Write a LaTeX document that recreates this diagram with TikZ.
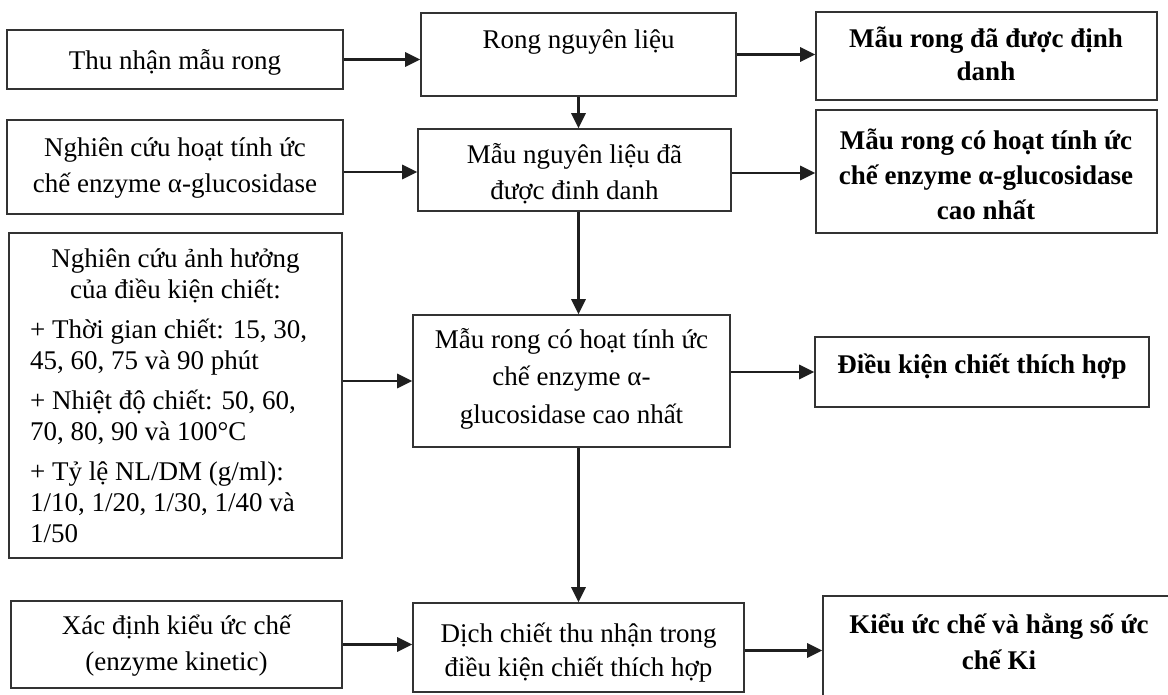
\documentclass[tikz,border=0pt]{standalone}
\usepackage{fontspec}
\setmainfont{Liberation Serif}
\usetikzlibrary{arrows.meta}
\newcommand\boxat[5]{\node[box, minimum width={#4-#2}, minimum height={#5-#3}] (#1) at ({(#2+#4)/2},{(#3+#5)/2}) {};}
\newcommand\tlines[6]{\foreach \linetext [count=\i] in {#6} {\node[#2] (#1-\i) at (#3, {#4+(\i-1)*#5}) {\linetext};}}
\begin{document}
\begin{tikzpicture}[x=1pt,y=-1pt,
  box/.style={draw=black!80, line width=1.6pt, inner sep=0pt, rectangle},
  txt/.style={inner sep=0pt, font=\fontsize{27}{31}\selectfont, text=black, anchor=base},
  btxt/.style={txt, font=\fontsize{27}{31}\selectfont\bfseries},
  ltxt/.style={txt, anchor=base west},
  arr/.style={line width=2.8pt, draw=black!88, -{Triangle[length=15pt,width=14pt]}}
]
\useasboundingbox (0,0) rectangle (1168,694);
\fill[white] (0,0) rectangle (1168,694);
\clip (0,0) rectangle (1168,694);

% boxes
\boxat{A}{7}{30}{343}{89}
\boxat{B}{421}{13}{736}{96}
\boxat{C}{816}{12}{1157}{100}
\boxat{D}{7}{120}{343}{214}
\boxat{E}{418}{129}{731}{211}
\boxat{F}{816}{110}{1157}{233}
\boxat{G}{9}{233}{342}{558}
\boxat{H}{413}{315}{730}{447}
\boxat{I}{815}{337}{1149}{407}
\boxat{J}{11}{601}{342}{688}
\boxat{K}{413}{603}{744}{692}
\boxat{L}{823}{596}{1175}{720}

% texts
\tlines{At}{txt}{175}{69}{31}{Thu nhận mẫu rong}
\tlines{Bt}{txt}{578.5}{48}{31}{Rong nguyên liệu}
\tlines{Ct}{btxt}{986}{47}{33}{Mẫu rong đã được định, danh}
\tlines{Dt}{txt}{175}{156}{36}{Nghiên cứu hoạt tính ức, chế enzyme α-glucosidase}
\tlines{Et}{txt}{574.5}{163}{36}{Mẫu nguyên liệu đã, được đinh danh}
\tlines{Ft}{btxt}{986}{149}{35}{Mẫu rong có hoạt tính ức, chế enzyme α-glucosidase, cao nhất}
\tlines{Ga}{txt}{175.5}{267}{31}{Nghiên cứu ảnh hưởng, của điều kiện chiết:}
\tlines{Gb}{ltxt}{30}{338}{31}{{+ Thời gian chiết: 15, 30,}, {45, 60, 75 và 90 phút}}
\tlines{Gc}{ltxt}{30}{409}{31}{{+ Nhiệt độ chiết: 50, 60,}, {70, 80, 90 và 100°C}}
\tlines{Gd}{ltxt}{30}{480}{31}{{+ Tỷ lệ NL/DM (g/ml):}, {1/10, 1/20, 1/30, 1/40 và}, {1/50}}
\tlines{Ht}{txt}{571.5}{348}{37.5}{Mẫu rong có hoạt tính ức, chế enzyme α-, glucosidase cao nhất}
\tlines{It}{btxt}{982}{373}{31}{Điều kiện chiết thích hợp}
\tlines{Jt}{txt}{176.5}{634}{36}{Xác định kiểu ức chế, (enzyme kinetic)}
\tlines{Kt}{txt}{578.5}{642}{34}{Dịch chiết thu nhận trong, điều kiện chiết thích hợp}
\tlines{Lt}{btxt}{999}{633}{36}{Kiểu ức chế và hằng số ức, chế Ki}

% connectors
\draw[arr] (A.east) -- (A.east -| B.west);
\draw[arr] (B.east) -- (B.east -| C.west);
\draw[arr] (B.south) -- (B.south |- E.north);
\draw[arr] ([yshift=-5pt]D.east) -- ([yshift=-5pt]D.east -| E.west);
\draw[arr] ([yshift=-3pt]E.east) -- ([yshift=-3pt]E.east -| F.west);
\draw[arr] (B.south |- E.south) -- (B.south |- H.north);
\draw[arr] (H.west -| G.east) -- (H.west);
\draw[arr] (I.west -| H.east) -- (I.west);
\draw[arr] (B.south |- H.south) -- (B.south |- K.north);
\draw[arr] (J.east) -- (J.east -| K.west);
\draw[arr] ([yshift=-3pt]K.east) -- ([yshift=-3pt]K.east -| L.west);
\end{tikzpicture}
\end{document}
